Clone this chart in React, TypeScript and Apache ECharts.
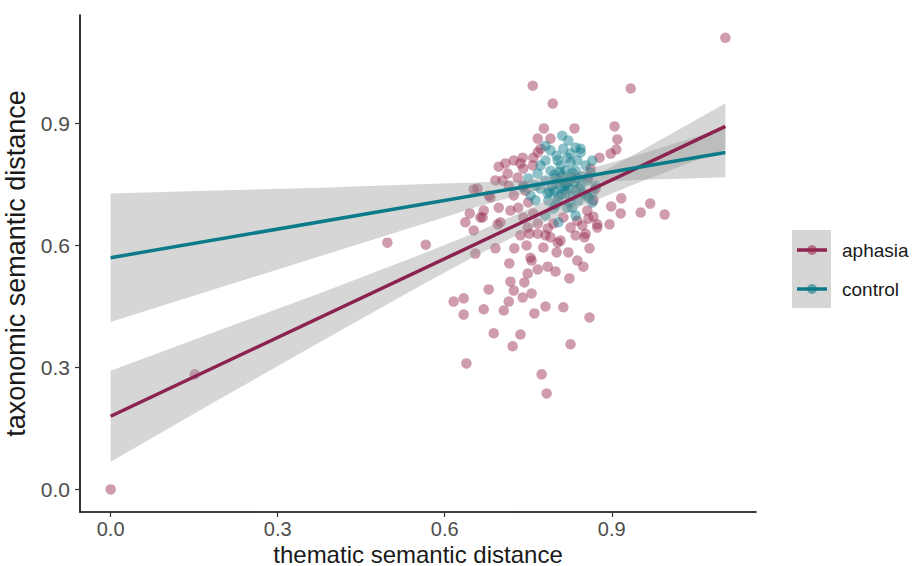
import React, { useEffect, useRef } from "react";
import * as echarts from "echarts";

const xTicks = [0, 0.3, 0.6, 0.9];
const yTicks = [0, 0.3, 0.6, 0.9];
const groups = ["aphasia", "control"];

const aphasiaPoints: [number, number][] = [
  [0.000, 0.000], [0.151, 0.283], [0.497, 0.607], [0.566, 0.602], [1.104, 1.111], [0.934, 0.986],
  [0.758, 0.993], [0.794, 0.949], [0.778, 0.888], [0.833, 0.888], [0.905, 0.893], [0.910, 0.861],
  [0.767, 0.863], [0.790, 0.863], [0.908, 0.836], [0.898, 0.826], [0.878, 0.816], [0.767, 0.829],
  [0.697, 0.794], [0.724, 0.809], [0.740, 0.816], [0.741, 0.789], [0.731, 0.767], [0.758, 0.797],
  [0.713, 0.777], [0.704, 0.760], [0.691, 0.760], [0.659, 0.740], [0.652, 0.738], [0.715, 0.747],
  [0.741, 0.747], [0.682, 0.718], [0.697, 0.693], [0.718, 0.686], [0.664, 0.669], [0.700, 0.657],
  [0.732, 0.693], [0.750, 0.706], [0.759, 0.679], [0.767, 0.654], [0.795, 0.654], [0.813, 0.669],
  [0.838, 0.661], [0.858, 0.666], [0.856, 0.686], [0.867, 0.711], [0.862, 0.789], [0.917, 0.716],
  [0.969, 0.703], [0.995, 0.676], [0.952, 0.681], [0.916, 0.679], [0.899, 0.696], [0.896, 0.652],
  [0.874, 0.652], [0.867, 0.671], [0.645, 0.679], [0.637, 0.657], [0.668, 0.669], [0.652, 0.637],
  [0.655, 0.580], [0.691, 0.593], [0.716, 0.556], [0.725, 0.593], [0.747, 0.600], [0.756, 0.563],
  [0.777, 0.595], [0.803, 0.607], [0.822, 0.583], [0.860, 0.593], [0.851, 0.620], [0.838, 0.563],
  [0.849, 0.548], [0.799, 0.536], [0.785, 0.548], [0.767, 0.541], [0.749, 0.531], [0.824, 0.519],
  [0.743, 0.509], [0.718, 0.511], [0.679, 0.492], [0.724, 0.489], [0.740, 0.472], [0.756, 0.482],
  [0.715, 0.462], [0.616, 0.462], [0.634, 0.470], [0.634, 0.430], [0.670, 0.443], [0.706, 0.440],
  [0.761, 0.433], [0.781, 0.450], [0.813, 0.448], [0.860, 0.423], [0.688, 0.384], [0.736, 0.381],
  [0.722, 0.352], [0.826, 0.357], [0.639, 0.310], [0.774, 0.283], [0.783, 0.236], [0.695, 0.652],
  [0.736, 0.625], [0.781, 0.625], [0.801, 0.583], [0.754, 0.570], [0.679, 0.723], [0.724, 0.723],
  [0.745, 0.735], [0.670, 0.686], [0.741, 0.669], [0.749, 0.644], [0.785, 0.642], [0.826, 0.644],
  [0.847, 0.649], [0.874, 0.644], [0.736, 0.802], [0.709, 0.802], [0.759, 0.816], [0.772, 0.838],
  [0.858, 0.767], [0.871, 0.740], [0.752, 0.629], [0.767, 0.629], [0.790, 0.620], [0.808, 0.612],
  [0.835, 0.625], [0.853, 0.629],
];

const controlPoints: [number, number][] = [
  [0.811, 0.870], [0.822, 0.858], [0.835, 0.841], [0.844, 0.829], [0.790, 0.834], [0.826, 0.826],
  [0.781, 0.809], [0.803, 0.809], [0.813, 0.838], [0.844, 0.838], [0.767, 0.777], [0.750, 0.765],
  [0.785, 0.728], [0.803, 0.711], [0.820, 0.693], [0.849, 0.728], [0.856, 0.760], [0.835, 0.784],
  [0.808, 0.747], [0.763, 0.711], [0.856, 0.723], [0.865, 0.706], [0.804, 0.657], [0.829, 0.693],
  [0.858, 0.718], [0.741, 0.743], [0.865, 0.728], [0.790, 0.784], [0.817, 0.784], [0.799, 0.765],
  [0.826, 0.760], [0.844, 0.747], [0.781, 0.760], [0.772, 0.740], [0.797, 0.733], [0.817, 0.728],
  [0.835, 0.735], [0.808, 0.797], [0.826, 0.804], [0.853, 0.797], [0.772, 0.797], [0.786, 0.711],
  [0.840, 0.711], [0.754, 0.723], [0.795, 0.691], [0.811, 0.772], [0.829, 0.779], [0.862, 0.779],
  [0.781, 0.845], [0.871, 0.747], [0.763, 0.747], [0.820, 0.816], [0.838, 0.809], [0.801, 0.821],
  [0.865, 0.809], [0.835, 0.674], [0.781, 0.674], [0.804, 0.723], [0.817, 0.747],
  [0.800, 0.752], [0.812, 0.760], [0.823, 0.741], [0.833, 0.756], [0.792, 0.745], [0.815, 0.737],
  [0.828, 0.768], [0.806, 0.781], [0.838, 0.766], [0.819, 0.753], [0.797, 0.774], [0.842, 0.741],
  [0.788, 0.733], [0.810, 0.725], [0.830, 0.722], [0.846, 0.770], [0.800, 0.700], [0.824, 0.706],
];

// fitted lines (end points)
const aphasiaFit: [number, number][] = [[0, 0.180], [1.104, 0.893]];
const controlFit: [number, number][] = [[0, 0.570], [1.104, 0.829]];

// confidence bands read at these x positions
const bandX = [0, 0.188, 0.377, 0.565, 0.659, 0.753, 0.847, 0.942, 1.036, 1.104];
const aphasiaLower = [0.068, 0.216, 0.363, 0.508, 0.577, 0.641, 0.698, 0.751, 0.801, 0.836];
const aphasiaUpper = [0.292, 0.388, 0.483, 0.582, 0.634, 0.691, 0.755, 0.825, 0.897, 0.950];
const controlLower = [0.412, 0.493, 0.574, 0.655, 0.695, 0.732, 0.754, 0.761, 0.765, 0.768];
const controlUpper = [0.728, 0.735, 0.742, 0.751, 0.755, 0.762, 0.784, 0.821, 0.861, 0.890];

const FONT = "'Liberation Sans', Arial, Helvetica, sans-serif";
const aphasiaLine = "#8c2250";
const controlLine = "#0c7b89";
const aphasiaDot = "rgba(150, 40, 78, 0.58)";
const controlDot = "rgba(13, 122, 136, 0.58)";
const bandFill = "rgba(153, 153, 153, 0.4)";

function bandSeries(name: string, lower: number[], upper: number[]) {
  return {
    type: "custom",
    name,
    silent: true,
    z: 3,
    data: [[bandX[0], lower[0]]],
    renderItem: (_params: any, api: any) => {
      const top = bandX.map((x, i) => api.coord([x, upper[i]]));
      const bottom = bandX.map((x, i) => api.coord([x, lower[i]])).reverse();
      return {
        type: "polygon",
        shape: { points: top.concat(bottom) },
        style: { fill: bandFill },
      };
    },
  };
}

export default function App() {
  const ref = useRef<HTMLDivElement>(null);
  useEffect(() => {
    if (!ref.current) return;
    const chart = echarts.init(ref.current, undefined, { renderer: "svg" });
    const legendTop = 250;
    const legendGap = 39;
    const legendItems: any[] = [
      { type: "rect", shape: { x: 792, y: 230, width: 39, height: 78 }, style: { fill: "#d6d6d6" } },
    ];
    groups.forEach((g, i) => {
      const y = legendTop + i * legendGap;
      const lc = i === 0 ? aphasiaLine : controlLine;
      const dc = i === 0 ? aphasiaDot : controlDot;
      legendItems.push(
        { type: "line", shape: { x1: 797, y1: y, x2: 827, y2: y }, style: { stroke: lc, lineWidth: 3.5 } },
        { type: "circle", shape: { cx: 812, cy: y, r: 5 }, style: { fill: dc } },
        {
          type: "text",
          x: 842,
          y,
          style: { text: g, fill: "#1a1a1a", font: `19px ${FONT}`, verticalAlign: "middle", align: "left" },
        }
      );
    });

    chart.setOption({
      animation: false,
      backgroundColor: "#ffffff",
      grid: { left: 80, right: 159, top: 15, bottom: 54, containLabel: false, outerBoundsMode: "none" },
      xAxis: {
        type: "value",
        min: -0.055,
        max: 1.159,
        name: "thematic semantic distance",
        nameLocation: "middle",
        nameGap: 30,
        nameMoveOverlap: false,
        nameTextStyle: { fontSize: 24, color: "#1a1a1a", fontFamily: FONT, lineHeight: 24 },
        axisLine: { show: true, onZero: false, lineStyle: { color: "#000", width: 1.6 } },
        axisTick: { show: true, customValues: xTicks, length: 5, lineStyle: { color: "#333", width: 1.2 } },
        axisLabel: {
          customValues: xTicks,
          formatter: (v: number) => v.toFixed(1),
          color: "#4d4d4d",
          fontSize: 20,
          lineHeight: 20,
          fontFamily: FONT,
          margin: 7,
        },
        splitLine: { show: false },
      },
      yAxis: {
        type: "value",
        min: -0.0556,
        max: 1.167,
        name: "taxonomic semantic distance",
        nameLocation: "middle",
        nameGap: 45,
        nameRotate: 90,
        nameTextStyle: { fontSize: 27, color: "#1a1a1a", fontFamily: FONT },
        axisLine: { show: true, onZero: false, lineStyle: { color: "#000", width: 1.6 } },
        axisTick: { show: true, customValues: yTicks, length: 5, lineStyle: { color: "#333", width: 1.2 } },
        axisLabel: {
          customValues: yTicks,
          formatter: (v: number) => v.toFixed(1),
          color: "#4d4d4d",
          fontSize: 21,
          fontFamily: FONT,
          margin: 10,
        },
        splitLine: { show: false },
      },
      series: [
        {
          type: "scatter",
          name: groups[0],
          data: aphasiaPoints,
          symbolSize: 10.5,
          itemStyle: { color: aphasiaDot },
          z: 2,
        },
        {
          type: "scatter",
          name: groups[1],
          data: controlPoints,
          symbolSize: 10.5,
          itemStyle: { color: controlDot },
          z: 2,
        },
        bandSeries("aphasia band", aphasiaLower, aphasiaUpper),
        bandSeries("control band", controlLower, controlUpper),
        {
          type: "line",
          name: groups[0] + " fit",
          data: aphasiaFit,
          showSymbol: false,
          lineStyle: { color: aphasiaLine, width: 3.5 },
          z: 4,
        },
        {
          type: "line",
          name: groups[1] + " fit",
          data: controlFit,
          showSymbol: false,
          lineStyle: { color: controlLine, width: 3.5 },
          z: 4,
        },
      ],
      graphic: legendItems,
    });
    return () => chart.dispose();
  }, []);
  return <div ref={ref} style={{ position: "fixed", left: 0, top: 0, width: 915, height: 566 }} />;
}
